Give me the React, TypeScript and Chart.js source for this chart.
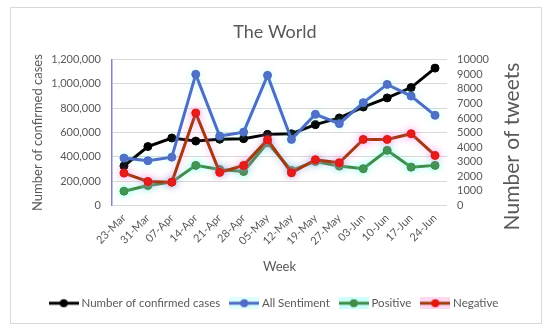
import React, { useEffect, useRef } from "react";
import { Chart, registerables } from "chart.js";

Chart.register(...registerables);

const weeks = ["23-Mar", "31-Mar", "07-Apr", "14-Apr", "21-Apr", "28-Apr", "05-May", "12-May", "19-May", "27-May", "03-Jun", "10-Jun", "17-Jun", "24-Jun"];
const confirmedCases = [325000, 485000, 555000, 530000, 545000, 550000, 585000, 590000, 665000, 720000, 810000, 885000, 970000, 1130000];
const allSentiment = [3250, 3070, 3310, 8990, 4760, 5030, 8920, 4530, 6250, 5610, 7050, 8300, 7500, 6180];
const positive = [980, 1370, 1600, 2750, 2470, 2330, 4300, 2400, 3020, 2700, 2520, 3780, 2630, 2750];
const negative = [2220, 1650, 1600, 6340, 2270, 2750, 4510, 2240, 3140, 2930, 4530, 4530, 4920, 3430];

const TEXT = "#595959";
const FONT = "Lato";

function markerCanvas(line: string, dot: string, glow?: string) {
  const c = document.createElement("canvas");
  c.width = 30;
  c.height = 12;
  const g = c.getContext("2d")!;
  if (glow) {
    g.fillStyle = glow;
    g.fillRect(0, 0, 30, 12);
  }
  g.strokeStyle = line;
  g.lineWidth = 3;
  g.beginPath();
  g.moveTo(0, 6);
  g.lineTo(30, 6);
  g.stroke();
  g.fillStyle = dot;
  g.beginPath();
  g.arc(15, 6, 4, 0, Math.PI * 2);
  g.fill();
  return c;
}

export default function App() {
  const ref = useRef<HTMLCanvasElement>(null);
  useEffect(() => {
    if (!ref.current) return;
    const frame = {
      id: "frame",
      beforeDraw(chart: any) {
        const ctx = chart.ctx;
        ctx.save();
        ctx.fillStyle = "#ffffff";
        ctx.fillRect(0, 0, chart.width, chart.height);
        ctx.strokeStyle = "#d9d9d9";
        ctx.lineWidth = 1;
        ctx.strokeRect(10.5, 7.5, 531, 316);
        ctx.restore();
      },
      afterDraw(chart: any) {
        const ctx = chart.ctx;
        const a = chart.chartArea;
        ctx.save();
        ctx.translate(512, (a.top + a.bottom) / 2 + 14);
        ctx.rotate(-Math.PI / 2);
        ctx.fillStyle = TEXT;
        ctx.font = `21px ${FONT}`;
        ctx.textAlign = "center";
        ctx.textBaseline = "middle";
        ctx.fillText("Number of tweets", 0, 0);
        ctx.restore();
      },
      beforeDatasetDraw(chart: any, args: any) {
        const ds = chart.data.datasets[args.index];
        const ctx = chart.ctx;
        ctx.save();
        if (ds.glow) {
          ctx.shadowColor = ds.glow;
          ctx.shadowBlur = 7;
        }
      },
      afterDatasetDraw(chart: any) {
        chart.ctx.restore();
      },
    };

    const series = [
      { label: "Number of confirmed cases", data: confirmedCases, line: "#000000", dot: "#000000", axis: "y", order: 4, glow: undefined, lg: undefined },
      { label: "All Sentiment", data: allSentiment, line: "#4f6cc6", dot: "#4f6cc6", axis: "y1", order: 3, glow: "rgba(120,255,240,0.25)", lg: "rgba(200,255,250,0.6)" },
      { label: "Positive", data: positive, line: "#3f8c48", dot: "#3f8c48", axis: "y1", order: 2, glow: "rgba(90,255,230,0.55)", lg: "rgba(190,255,250,0.8)" },
      { label: "Negative", data: negative, line: "#a23a10", dot: "#e3160d", axis: "y1", order: 1, glow: "rgba(255,110,220,0.55)", lg: "rgba(255,205,240,0.8)" },
    ];

    const chart = new Chart(ref.current, {
      type: "line",
      data: {
        labels: weeks,
        datasets: series.map((s) => ({
          label: s.label,
          data: s.data,
          yAxisID: s.axis,
          order: s.order,
          borderColor: s.line,
          backgroundColor: s.dot,
          pointBackgroundColor: s.dot,
          pointBorderColor: s.dot,
          borderWidth: 3,
          pointRadius: 4,
          pointBorderWidth: 1,
          tension: 0,
          glow: s.glow,
        })) as any,
      },
      options: {
        responsive: false,
        animation: false,
        devicePixelRatio: 1,
        layout: { padding: { top: 0, left: 10, right: 10, bottom: 12 } },
        font: { family: FONT },
        plugins: {
          title: {
            display: true,
            text: "The World",
            color: TEXT,
            font: { family: FONT, size: 18, weight: "normal" },
            padding: { top: 21, bottom: 17 },
          },
          legend: {
            position: "bottom",
            labels: {
              usePointStyle: true,
              pointStyleWidth: 24,
              padding: 12,
              color: TEXT,
              font: { family: FONT, size: 11.5 },
              generateLabels: () =>
                series.map((s, i) => ({
                  text: s.label,
                  fillStyle: s.dot,
                  strokeStyle: s.line,
                  fontColor: TEXT,
                  lineWidth: 0,
                  hidden: false,
                  datasetIndex: i,
                  pointStyle: markerCanvas(s.line, s.dot, s.lg) as any,
                })),
            },
          },
          tooltip: { enabled: false },
        },
        scales: {
          x: {
            type: "category",
            offset: true,
            grid: { display: false, drawTicks: false },
            border: { display: false },
            ticks: {
              color: TEXT,
              font: { family: FONT, size: 11 },
              minRotation: 45,
              maxRotation: 45,
              autoSkip: false,
              padding: 6,
            },
            title: {
              display: true,
              text: "Week",
              color: TEXT,
              font: { family: FONT, size: 13 },
              padding: { top: 0, bottom: 11 },
            },
            afterFit: (s: any) => {
              s.height = 80;
            },
          },
          y: {
            position: "left",
            min: 0,
            max: 1200000,
            grid: { color: "#d9d9d9", lineWidth: 1, drawTicks: false },
            border: { display: true, color: "#7f86c8", width: 1.5 },
            ticks: {
              stepSize: 200000,
              autoSkip: false,
              color: TEXT,
              font: { family: FONT, size: 11 },
              padding: 11,
              callback: (v: any) => Number(v).toLocaleString("en-US"),
            },
            title: {
              display: true,
              text: "Number of confirmed cases",
              color: TEXT,
              font: { family: FONT, size: 13 },
              padding: { top: 20, bottom: 0 },
            },
            afterFit: (s: any) => {
              s.width = 102;
            },
          },
          y1: {
            position: "right",
            min: 0,
            max: 10000,
            grid: { display: false, drawTicks: false },
            border: { display: false },
            ticks: {
              stepSize: 1000,
              autoSkip: false,
              color: TEXT,
              font: { family: FONT, size: 11 },
              padding: 10,
              callback: (v: any) => String(v),
            },
            afterFit: (s: any) => {
              s.width = 93;
            },
          },
        },
      } as any,
      plugins: [frame],
    });
    return () => chart.destroy();
  }, []);

  return (
    <div style={{ position: "absolute", left: 0, top: 0, width: 550, height: 331 }}>
      <canvas ref={ref} width={550} height={331} style={{ display: "block" }} />
    </div>
  );
}
